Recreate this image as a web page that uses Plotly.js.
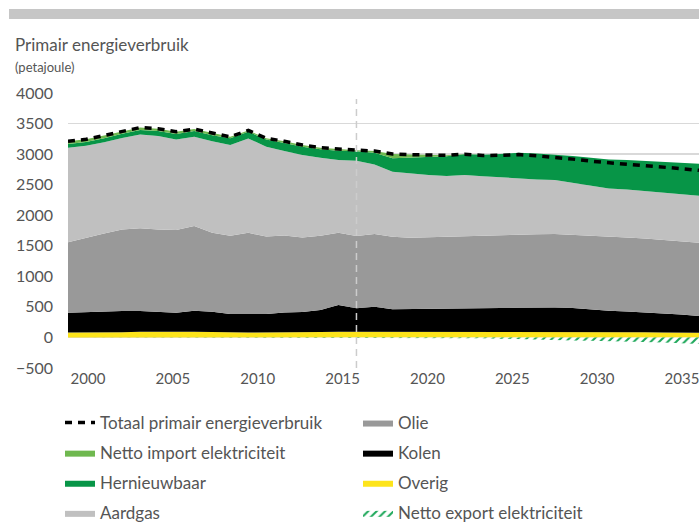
<!DOCTYPE html>
<html>
<head>
<meta charset="utf-8">
<script src="https://cdn.plot.ly/plotly-3.0.1.min.js"></script>
<style>
  body { margin: 0; background: #fff; }
  #plot { width: 699px; height: 525px; }
</style>
</head>
<body>
<div id="plot"></div>
<script>
// jaren (realisatie t/m 2016, daarna raming)
const years = [2000, 2001, 2002, 2003, 2004, 2005, 2006, 2007, 2008, 2009,
               2010, 2011, 2012, 2013, 2014, 2015, 2016, 2017, 2018, 2019,
               2020, 2021, 2022, 2023, 2024, 2025, 2026, 2027, 2028, 2029,
               2030, 2031, 2032, 2033, 2034, 2035];

// petajoule per bron
const overig = [80, 80, 80, 85, 95, 90, 95, 95, 95, 85,
                80, 80, 80, 80, 90, 95, 95, 95, 95, 95,
                95, 95, 95, 95, 95, 95, 95, 95, 95, 90,
                90, 85, 85, 80, 80, 75];
const kolen = [324, 335, 345, 347, 337, 330, 310, 342, 325, 300,
               303, 305, 330, 335, 358, 435, 381, 407, 365, 367,
               368, 370, 373, 380, 385, 391, 395, 395, 385, 365,
               347, 340, 325, 315, 295, 275];
const olie = [1152, 1215, 1275, 1333, 1353, 1345, 1355, 1385, 1293, 1279,
              1330, 1265, 1260, 1222, 1217, 1183, 1183, 1189, 1188, 1169,
              1177, 1185, 1191, 1190, 1192, 1194, 1198, 1201, 1200, 1210,
              1211, 1210, 1210, 1205, 1200, 1199];
const aardgas = [1548, 1505, 1495, 1500, 1535, 1530, 1481, 1462, 1497, 1484,
                 1544, 1470, 1380, 1348, 1275, 1192, 1231, 1141, 1063, 1051,
                 1020, 990, 998, 973, 947, 923, 898, 884, 851, 820,
                 791, 785, 775, 775, 770, 769];
const hernieuwbaar = [60, 62, 65, 70, 75, 85, 90, 95, 100, 110,
                      110, 120, 130, 135, 140, 150, 155, 190, 220, 260,
                      300, 325, 340, 352, 381, 419, 425, 420, 437, 455,
                      474, 482, 491, 500, 513, 524];
const nettoImport = [45, 45, 45, 40, 40, 35, 35, 30, 30, 25,
                     20, 20, 30, 30, 25, 25, 20, 30, 70, 50,
                     30, 15, 5, 0, 0, 0, 0, 0, 0, 0,
                     0, 0, 0, 0, 0, 0];
const nettoExport = [0, 0, 0, 0, 0, 0, 0, 0, 0, 0,
                     0, 0, 0, 0, 0, 0, 0, 0, 0, 0,
                     0, 0, -3, -12, -20, -30, -40, -45, -50, -55,
                     -60, -68, -76, -84, -95, -108];

const tickLabels = ['2000', '2005', '2010', '2015', '2020', '2025', '2030', '2035'];
const yTicks = [-500, 0, 500, 1000, 1500, 2000, 2500, 3000, 3500, 4000];

// totaal = som van alle bronnen (export telt negatief)
const totaal = years.map((y, i) => overig[i] + kolen[i] + olie[i] + aardgas[i] +
  hernieuwbaar[i] + nettoImport[i] + nettoExport[i]);

// plotvlak in pixels
const L = 68, R = 699, T = 93, B = 368;
const px2x = p => (p - L) / (R - L);
const px2y = p => (B - p) / (B - T);

function area(name, vals, color, legend, rank) {
  return {
    x: years, y: vals, name: name,
    type: 'scatter', mode: 'lines',
    stackgroup: 'pos', fill: 'tonexty',
    fillcolor: color, line: { width: 0, color: color },
    legend: legend, legendrank: rank, legendgroup: name,
    hoverinfo: 'skip'
  };
}

let data = [
  area('Overig', overig, '#fde41b', 'legend2', 3),
  area('Kolen', kolen, '#000000', 'legend2', 2),
  area('Olie', olie, '#999999', 'legend2', 1),
  area('Aardgas', aardgas, '#c0c0c0', 'legend', 4),
  area('Hernieuwbaar', hernieuwbaar, '#079547', 'legend', 3),
  area('Netto import elektriciteit', nettoImport, '#6fb84f', 'legend', 2),
  {
    x: years, y: nettoExport, name: 'Netto export elektriciteit',
    type: 'scatter', mode: 'lines', fill: 'tozeroy',
    fillcolor: 'rgba(0,0,0,0)',
    fillpattern: { shape: '/', fgcolor: '#1ea85a', bgcolor: '#ffffff', size: 6, solidity: 0.35 },
    line: { width: 0, color: '#1ea85a' },
    legend: 'legend2', legendrank: 4, legendgroup: 'export',
    hoverinfo: 'skip'
  },
  {
    x: years, y: totaal, name: 'Totaal primair energieverbruik',
    type: 'scatter', mode: 'lines',
    line: { color: '#000000', width: 3.5, dash: '7px,6px' },
    legend: 'legend', legendrank: 1, legendgroup: 'totaal',
    hoverinfo: 'skip'
  },
  // lege trace zodat de jaar-as (x2) getekend wordt
  { x: [], y: [], xaxis: 'x2', yaxis: 'y', type: 'scatter', mode: 'lines',
    showlegend: false, hoverinfo: 'skip' }
];

let legendBase = {
  orientation: 'v', traceorder: 'grouped', tracegroupgap: 5,
  xanchor: 'left', yanchor: 'top', y: px2y(405),
  bgcolor: 'rgba(0,0,0,0)', font: { family: 'Lato', size: 17, color: '#555555' }
};

let layout = {
  width: 699, height: 525,
  margin: { l: L, r: 699 - R, t: T, b: 525 - B, autoexpand: false },
  paper_bgcolor: '#ffffff', plot_bgcolor: '#ffffff',
  font: { family: 'Lato', size: 15, color: '#555555' },
  showlegend: true,
  legend: Object.assign({ x: px2x(60) }, legendBase),
  legend2: Object.assign({ x: px2x(358) }, legendBase),
  xaxis: {
    range: [2000, 2035], showticklabels: false, showgrid: false,
    zeroline: false, showline: false, ticks: '', fixedrange: true
  },
  xaxis2: {
    overlaying: 'x', anchor: 'y', side: 'bottom',
    range: [1998.82, 2036.0],
    tickvals: tickLabels.map(Number), ticktext: tickLabels,
    showgrid: false, zeroline: false, showline: false, ticks: '',
    ticklabeloverflow: 'allow',
    tickfont: { size: 15, color: '#555555' }, fixedrange: true
  },
  yaxis: {
    range: [-500, 4000], tickvals: yTicks,
    showgrid: true, gridcolor: '#d9d9d9', gridwidth: 1.5,
    zeroline: true, zerolinecolor: '#d9d9d9', zerolinewidth: 1.5,
    showline: false, ticks: '', ticklabelstandoff: 14,
    tickfont: { size: 16, color: '#555555' }, fixedrange: true
  },
  shapes: [
    // grijze balk bovenaan
    { type: 'rect', xref: 'paper', yref: 'paper', layer: 'above',
      x0: px2x(9), x1: 1, y0: px2y(19), y1: px2y(9),
      fillcolor: '#c6c6c6', line: { width: 0 } },
    // scheiding realisatie / raming
    { type: 'line', xref: 'x', yref: 'y', layer: 'above',
      x0: 2016, x1: 2016, y0: -500, y1: 3900,
      line: { color: '#cccccc', width: 1.5, dash: '7px,5px' } }
  ],
  annotations: [
    { text: 'Primair energieverbruik', xref: 'paper', yref: 'paper',
      x: px2x(13), y: px2y(45), xanchor: 'left', yanchor: 'middle',
      showarrow: false, font: { size: 17, color: '#555555' } },
    { text: '(petajoule)', xref: 'paper', yref: 'paper',
      x: px2x(13), y: px2y(67), xanchor: 'left', yanchor: 'middle',
      showarrow: false, font: { size: 13, color: '#555555' } }
  ]
};

Plotly.newPlot('plot', data, layout, { displayModeBar: false, staticPlot: true });
</script>
</body>
</html>
